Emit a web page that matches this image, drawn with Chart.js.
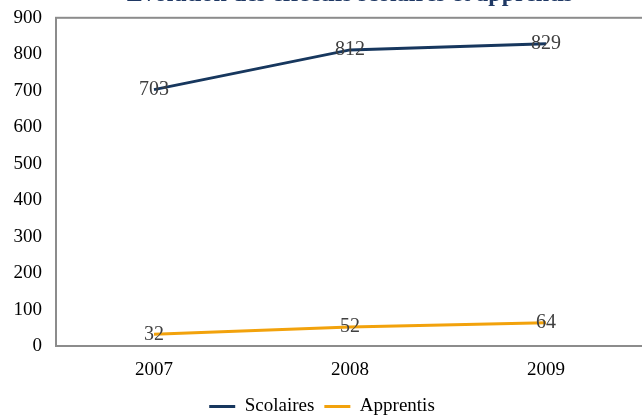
<!DOCTYPE html>
<html><head><meta charset="utf-8">
<script src="https://cdn.jsdelivr.net/npm/chart.js@4"></script>
<style>
html,body{margin:0;padding:0;overflow:hidden;background:#fff;width:642px;height:415px}
#wrap{position:absolute;left:0;top:-20px;width:696px;height:446px}
</style></head><body>
<div id="wrap"><canvas id="c"></canvas></div>
<script>
const categories = ['2007', '2008', '2009'];
const scolaires = [703, 812, 829];
const apprentis = [32, 52, 64];
const seriesNames = ['Scolaires', 'Apprentis'];
const titleText = 'Évolution des effectifs scolaires et apprentis';
const yMin = 0, yMax = 900, yStep = 100;

const SERIF = "'Liberation Serif', 'DejaVu Serif', serif";

const frame = {
  id: 'frame',
  beforeDatasetsDraw(chart) {
    const {ctx, chartArea: a} = chart;
    ctx.save();
    ctx.strokeStyle = '#8c8c8c';
    ctx.lineWidth = 2;
    ctx.strokeRect(a.left, a.top, a.right - a.left, a.bottom - a.top);
    ctx.restore();
  }
};

const valueLabels = {
  id: 'valueLabels',
  afterDatasetsDraw(chart) {
    const ctx = chart.ctx;
    ctx.save();
    ctx.font = '20px ' + SERIF;
    ctx.fillStyle = '#404040';
    ctx.textAlign = 'center';
    ctx.textBaseline = 'middle';
    chart.data.datasets.forEach((ds, i) => {
      chart.getDatasetMeta(i).data.forEach((pt, j) => {
        ctx.fillText(String(ds.data[j]), pt.x, pt.y);
      });
    });
    ctx.restore();
  }
};

new Chart(document.getElementById('c'), {
  type: 'line',
  data: {
    labels: categories,
    datasets: [
      {label: seriesNames[0], data: scolaires, borderColor: '#17375E', backgroundColor: '#17375E', borderWidth: 3, pointRadius: 0, tension: 0},
      {label: seriesNames[1], data: apprentis, borderColor: '#F2A20C', backgroundColor: '#F2A20C', borderWidth: 3, pointRadius: 0, tension: 0}
    ]
  },
  options: {
    responsive: true,
    maintainAspectRatio: false,
    animation: false,
    layout: {padding: {left: 0, right: 52, top: 0, bottom: 0}},
    plugins: {
      title: {
        display: true, text: titleText, fullSize: false,
        color: '#1F3864', font: {family: SERIF, size: 24, weight: 'bold'},
        padding: {top: 0, bottom: 9}
      },
      legend: {
        position: 'bottom',
        labels: {
          color: '#000', font: {family: SERIF, size: 19},
          usePointStyle: true, pointStyle: 'line', pointStyleWidth: 26,
          boxHeight: 10, padding: 10
        }
      },
      tooltip: {enabled: false}
    },
    scales: {
      x: {
        offset: true,
        grid: {display: false, drawTicks: false},
        border: {display: false},
        ticks: {color: '#000', font: {family: SERIF, size: 19}, padding: 13},
        afterFit(s) { s.height = 41; }
      },
      y: {
        min: yMin, max: yMax,
        grid: {display: false, drawTicks: false},
        border: {display: false},
        ticks: {stepSize: yStep, color: '#000', font: {family: SERIF, size: 19}, padding: 14},
        afterFit(s) { s.width = 56; }
      }
    }
  },
  plugins: [frame, valueLabels]
});
</script>
</body></html>
